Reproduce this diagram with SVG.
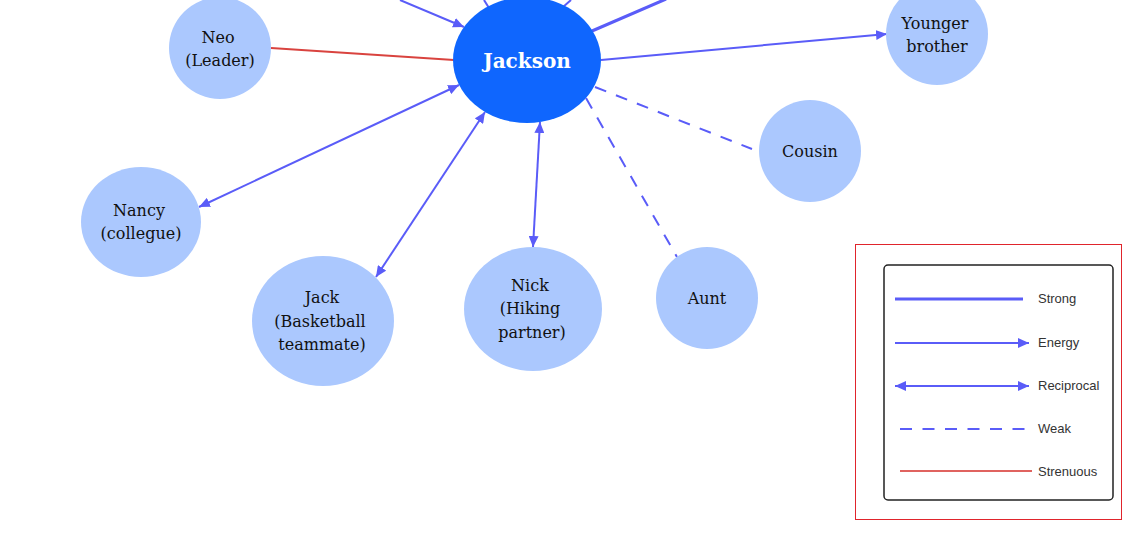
<svg xmlns="http://www.w3.org/2000/svg" width="1126" height="538" viewBox="0 0 1126 538">
<style>
.c{stroke:#5a5cf8;stroke-width:2;fill:none}
.s{stroke:#5a5cf8;stroke-width:3;fill:none}
.d{stroke:#5a5cf8;stroke-width:2;fill:none;stroke-dasharray:12 10.5}
.r{stroke:#d9433f;stroke-width:2;fill:none}
.n{fill:#abc8fe}
.t{font-family:"DejaVu Serif","Liberation Serif",serif;font-size:16px;fill:#111;text-anchor:middle}
.lg{font-family:"Liberation Sans",Arial,sans-serif;font-size:13px;fill:#333}
</style>
<defs>
<marker id="ae" markerUnits="userSpaceOnUse" markerWidth="12" markerHeight="10" refX="11" refY="5" orient="auto"><path d="M0,0 L11,5 L0,10 Z" fill="#5a5cf8"/></marker>
<marker id="as" markerUnits="userSpaceOnUse" markerWidth="12" markerHeight="10" refX="1" refY="5" orient="auto"><path d="M12,0 L1,5 L12,10 Z" fill="#5a5cf8"/></marker>
</defs>
<rect width="1126" height="538" fill="#fff"/>
<g id="connectors">
<line class="c" x1="400" y1="0" x2="464" y2="27" marker-end="url(#ae)"/>
<line class="c" x1="484" y1="0" x2="489" y2="8"/>
<line class="c" x1="571" y1="0" x2="563" y2="7"/>
<line class="s" x1="592" y1="31" x2="666" y2="-1"/>
<line class="r" x1="271" y1="48" x2="454" y2="60"/>
<line class="c" x1="199" y1="207" x2="459" y2="85" marker-start="url(#as)" marker-end="url(#ae)"/>
<line class="c" x1="376" y1="277" x2="485" y2="112" marker-start="url(#as)" marker-end="url(#ae)"/>
<line class="c" x1="533" y1="247" x2="540" y2="122" marker-start="url(#as)" marker-end="url(#ae)"/>
<line class="d" x1="586" y1="98" x2="677" y2="257"/>
<line class="d" x1="595" y1="87" x2="752" y2="149"/>
<line class="c" x1="601" y1="60" x2="887" y2="34" marker-end="url(#ae)"/>
</g>
<g id="jackson"><ellipse cx="527" cy="60" rx="74" ry="63" fill="#0f66fe"/><text x="527" y="68" style="font-family:'DejaVu Serif','Liberation Serif',serif;font-size:20px;font-weight:bold;fill:#fff;text-anchor:middle">Jackson</text></g>
<g id="neo"><circle class="n" cx="220" cy="48" r="51"/><text class="t" x="218" y="43">Neo</text><text class="t" x="220" y="66">(Leader)</text></g>
<g id="younger-brother"><circle class="n" cx="937" cy="34" r="51"/><text class="t" x="935" y="29">Younger</text><text class="t" x="937" y="52">brother</text></g>
<g id="cousin"><circle class="n" cx="810" cy="151" r="51"/><text class="t" x="810" y="157">Cousin</text></g>
<g id="nancy"><ellipse class="n" cx="141" cy="222" rx="60" ry="55"/><text class="t" x="139" y="216">Nancy</text><text class="t" x="141" y="239">(collegue)</text></g>
<g id="jack"><ellipse class="n" cx="323" cy="321" rx="71" ry="65"/><text class="t" x="322" y="303">Jack</text><text class="t" x="320" y="327">(Basketball</text><text class="t" x="322" y="350">teammate)</text></g>
<g id="nick"><ellipse class="n" cx="533" cy="309" rx="69" ry="62"/><text class="t" x="530" y="291">Nick</text><text class="t" x="530" y="314">(Hiking</text><text class="t" x="532" y="338">partner)</text></g>
<g id="aunt"><circle class="n" cx="707" cy="298" r="51"/><text class="t" x="707" y="304">Aunt</text></g>
<g id="legend">
<rect x="855.5" y="244.5" width="266" height="275" fill="none" stroke="#e0242c" stroke-width="1"/>
<rect x="884" y="265" width="229" height="235" rx="4" fill="none" stroke="#222" stroke-width="1.5"/>
<line class="s" x1="895" y1="299" x2="1023" y2="299"/>
<line class="c" x1="895" y1="343" x2="1029" y2="343" marker-end="url(#ae)"/>
<line class="c" x1="895" y1="386" x2="1029" y2="386" marker-start="url(#as)" marker-end="url(#ae)"/>
<line class="d" x1="900" y1="429" x2="1026" y2="429"/>
<line class="r" x1="900" y1="471" x2="1032" y2="471" style="stroke:#e0635f"/>
<text class="lg" x="1038" y="303">Strong</text>
<text class="lg" x="1038" y="347">Energy</text>
<text class="lg" x="1038" y="390">Reciprocal</text>
<text class="lg" x="1038" y="433">Weak</text>
<text class="lg" x="1038" y="476">Strenuous</text>
</g>
</svg>
